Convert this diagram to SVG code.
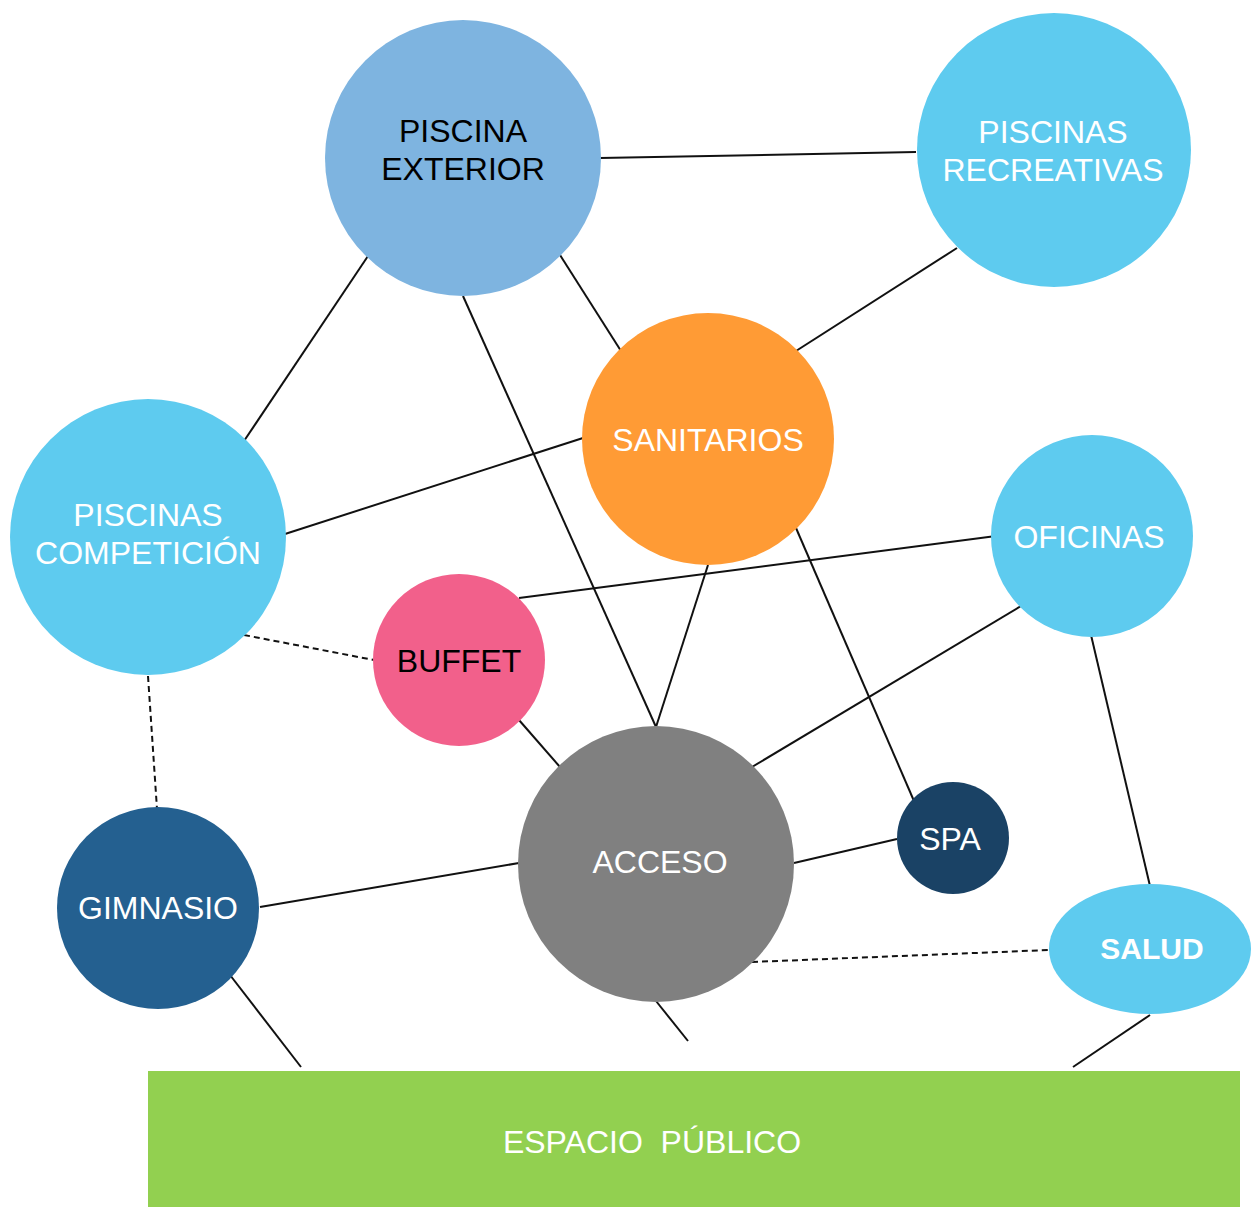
<svg xmlns="http://www.w3.org/2000/svg" width="1252" height="1207" viewBox="0 0 1252 1207">
<style>
.t{font-family:"Liberation Sans",Arial,sans-serif;font-size:32px;text-anchor:middle;fill:#fff}
.k{fill:#000}
.b{font-size:30px;font-weight:bold}
.e{stroke:#111;stroke-width:2;fill:none}
.d{stroke:#111;stroke-width:2;fill:none;stroke-dasharray:6,4}
</style>
<rect width="1252" height="1207" fill="#fff"/>
<g id="connectors">
<line class="e" x1="600" y1="158" x2="916" y2="152"/>
<line class="e" x1="368" y1="256" x2="244" y2="441"/>
<line class="e" x1="560" y1="255" x2="621" y2="351"/>
<line class="e" x1="463" y1="296" x2="656" y2="727"/>
<line class="e" x1="957" y1="248" x2="796" y2="351"/>
<line class="e" x1="583" y1="438" x2="285" y2="534"/>
<line class="e" x1="708" y1="565" x2="656" y2="727"/>
<line class="e" x1="796" y1="528" x2="914" y2="801"/>
<line class="e" x1="996" y1="536" x2="519" y2="598"/>
<line class="e" x1="1021" y1="606" x2="752" y2="767"/>
<line class="e" x1="1091" y1="635" x2="1150" y2="886"/>
<line class="d" x1="244" y1="635" x2="374" y2="660"/>
<line class="d" x1="148" y1="676" x2="157" y2="809"/>
<line class="e" x1="519" y1="720" x2="560" y2="767"/>
<line class="e" x1="519" y1="863" x2="260" y2="907"/>
<line class="e" x1="794" y1="863" x2="897" y2="839"/>
<line class="d" x1="752" y1="962" x2="1049" y2="950"/>
<line class="e" x1="230" y1="975" x2="301" y2="1067"/>
<line class="e" x1="656" y1="1001" x2="688" y2="1041"/>
<line class="e" x1="1150" y1="1015" x2="1073" y2="1067"/>
</g>
<g id="piscina-exterior"><circle cx="463" cy="158" r="138" fill="#7EB4E0"/><text class="t k" x="463" y="142">PISCINA</text><text class="t k" x="463" y="180">EXTERIOR</text></g>
<g id="piscinas-recreativas"><circle cx="1054" cy="150" r="137" fill="#5ECBEF"/><text class="t" x="1053" y="143">PISCINAS</text><text class="t" x="1053" y="181">RECREATIVAS</text></g>
<g id="sanitarios"><circle cx="708" cy="439" r="126" fill="#FF9B35"/><text class="t" x="708" y="451">SANITARIOS</text></g>
<g id="piscinas-competicion"><circle cx="148" cy="537" r="138" fill="#5ECBEF"/><text class="t" x="148" y="526">PISCINAS</text><text class="t" x="148" y="564">COMPETICIÓN</text></g>
<g id="oficinas"><circle cx="1092" cy="536" r="101" fill="#5ECBEF"/><text class="t" x="1089" y="548">OFICINAS</text></g>
<g id="buffet"><circle cx="459" cy="660" r="86" fill="#F2608B"/><text class="t k" x="459" y="672">BUFFET</text></g>
<g id="acceso"><circle cx="656" cy="864" r="138" fill="#808080"/><text class="t" x="660" y="873">ACCESO</text></g>
<g id="spa"><circle cx="953" cy="838" r="56" fill="#1A4265"/><text class="t" x="950" y="850">SPA</text></g>
<g id="gimnasio"><circle cx="158" cy="908" r="101" fill="#246090"/><text class="t" x="158" y="919">GIMNASIO</text></g>
<g id="salud"><ellipse cx="1150" cy="949" rx="101" ry="65" fill="#5ECBEF"/><text class="t b" x="1152" y="959">SALUD</text></g>
<g id="espacio-publico"><rect x="148" y="1071" width="1092" height="136" fill="#92D050"/><text class="t" x="652" y="1153" xml:space="preserve">ESPACIO  PÚBLICO</text></g>
</svg>
